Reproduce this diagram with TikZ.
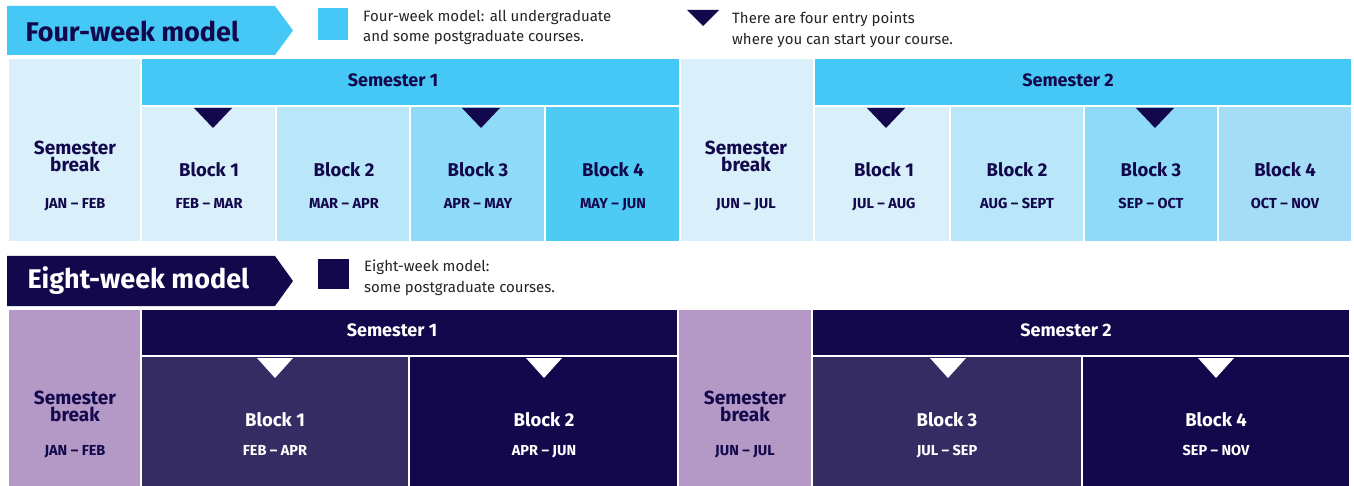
\documentclass[tikz,border=0pt]{standalone}
\usepackage{fontspec}
\setmainfont{Fira Sans}
\definecolor{skyhead}{RGB}{69,200,245}
\definecolor{skypale}{RGB}{217,240,251}
\definecolor{skymid}{RGB}{185,230,249}
\definecolor{skydeep}{RGB}{143,218,247}
\definecolor{skyfull}{RGB}{78,203,245}
\definecolor{skysoft}{RGB}{166,221,246}
\definecolor{navy}{RGB}{18,8,75}
\definecolor{plum}{RGB}{53,44,99}
\definecolor{lilac}{RGB}{180,153,198}
\definecolor{legendgray}{RGB}{35,35,40}
\tikzset{
  cell/.style={draw=white, line width=1.2pt},
  titlelabel/.style={anchor=west, font=\fontsize{27}{30}\selectfont\bfseries},
  legendlabel/.style={anchor=base west, legendgray, inner sep=0pt, font=\fontsize{15}{18}\selectfont},
  semlabel/.style={font=\fontsize{18}{20}\selectfont\bfseries},
  breaklabel/.style={align=center, font=\fontsize{19}{17}\selectfont\bfseries},
  blocklabel/.style={text height=13pt, text depth=0pt, font=\fontsize{18.5}{20}\selectfont\bfseries},
  datelabel/.style={text height=10pt, text depth=0pt, font=\fontsize{14.5}{16}\selectfont\bfseries}
}
\begin{document}
\begin{tikzpicture}[x=1pt, y=-1pt]
\useasboundingbox (0,0) rectangle (1354,486);
%Four-week model
\fill[skyhead] (7,6) -- (275,6) -- (293,30.5) -- (275,55) -- (7,55) -- cycle;
\node[titlelabel, navy] (fourtitle) at (22,31) {Four-week model};
\fill[skyhead] (318,8) rectangle (348,40);
\node[legendlabel] (fourkey1) at (363,22) {Four-week model: all undergraduate};
\node[legendlabel] (fourkey2) at (363,42) {and some postgraduate courses.};
\fill[navy] (687,10) -- (719,10) -- (703,26) -- cycle;
\node[legendlabel] (entrykey1) at (732,24) {There are four entry points};
\node[legendlabel] (entrykey2) at (732,45) {where you can start your course.};
%Four-week grid
\filldraw[cell, fill=skypale] (8,58) rectangle (141,242);
\filldraw[cell, fill=skyhead] (141,58) rectangle (680,106);
\filldraw[cell, fill=skypale] (141,106) rectangle (276,242);
\filldraw[cell, fill=skymid] (276,106) rectangle (410,242);
\filldraw[cell, fill=skydeep] (410,106) rectangle (545,242);
\filldraw[cell, fill=skyfull] (545,106) rectangle (680,242);
\filldraw[cell, fill=skypale] (680,58) rectangle (814,242);
\filldraw[cell, fill=skyhead] (814,58) rectangle (1352,106);
\filldraw[cell, fill=skypale] (814,106) rectangle (950,242);
\filldraw[cell, fill=skymid] (950,106) rectangle (1084,242);
\filldraw[cell, fill=skydeep] (1084,106) rectangle (1218,242);
\filldraw[cell, fill=skysoft] (1218,106) rectangle (1352,242);
%Entry points
\fill[navy] (194,108) -- (232,108) -- (213,128) -- cycle;
\fill[navy] (462,108) -- (500,108) -- (481,128) -- cycle;
\fill[navy] (867,108) -- (905,108) -- (886,128) -- cycle;
\fill[navy] (1136,108) -- (1174,108) -- (1155,128) -- cycle;
%Four-week labels
\begin{scope}[navy]
\node[semlabel] (foursem1) at (393,80) {Semester 1};
\node[semlabel] (foursem2) at (1068,80) {Semester 2};
\node[breaklabel] (fourbreak1) at (75,156) {Semester\\break};
\node[datelabel] (fourbreak1date) at (75,204) {JAN – FEB};
\node[breaklabel] (fourbreak2) at (746,156) {Semester\\break};
\node[datelabel] (fourbreak2date) at (746,204) {JUN – JUL};
\node[blocklabel] (fourblock1) at (209,170) {Block 1};
\node[datelabel] (fourblock1date) at (209,204) {FEB – MAR};
\node[blocklabel] (fourblock2) at (344,170) {Block 2};
\node[datelabel] (fourblock2date) at (344,204) {MAR – APR};
\node[blocklabel] (fourblock3) at (478,170) {Block 3};
\node[datelabel] (fourblock3date) at (478,204) {APR – MAY};
\node[blocklabel] (fourblock4) at (613,170) {Block 4};
\node[datelabel] (fourblock4date) at (613,204) {MAY – JUN};
\node[blocklabel] (fourblock5) at (884,170) {Block 1};
\node[datelabel] (fourblock5date) at (884,204) {JUL – AUG};
\node[blocklabel] (fourblock6) at (1017,170) {Block 2};
\node[datelabel] (fourblock6date) at (1017,204) {AUG – SEPT};
\node[blocklabel] (fourblock7) at (1151,170) {Block 3};
\node[datelabel] (fourblock7date) at (1151,204) {SEP – OCT};
\node[blocklabel] (fourblock8) at (1285,170) {Block 4};
\node[datelabel] (fourblock8date) at (1285,204) {OCT – NOV};
\end{scope}
%Eight-week model
\fill[navy] (7,256) -- (275,256) -- (293,281) -- (275,306) -- (7,306) -- cycle;
\node[titlelabel, white] (eighttitle) at (24,281) {Eight-week model};
\fill[navy] (318,259) rectangle (349,289);
\node[legendlabel] (eightkey1) at (364,272) {Eight-week model:};
\node[legendlabel] (eightkey2) at (364,292) {some postgraduate courses.};
%Eight-week grid
\filldraw[cell, fill=lilac] (8,309) rectangle (141,487);
\filldraw[cell, fill=navy] (141,309) rectangle (678,356);
\filldraw[cell, fill=plum] (141,356) rectangle (409,487);
\filldraw[cell, fill=navy] (409,356) rectangle (678,487);
\filldraw[cell, fill=lilac] (678,309) rectangle (812,487);
\filldraw[cell, fill=navy] (812,309) rectangle (1350,356);
\filldraw[cell, fill=plum] (812,356) rectangle (1082,487);
\filldraw[cell, fill=navy] (1082,356) rectangle (1350,487);
%Entry points
\fill[white] (257,358) -- (293,358) -- (275,378) -- cycle;
\fill[white] (526,358) -- (562,358) -- (544,378) -- cycle;
\fill[white] (930,358) -- (966,358) -- (948,378) -- cycle;
\fill[white] (1198,358) -- (1234,358) -- (1216,378) -- cycle;
%Eight-week labels
\node[semlabel, white] (eightsem1) at (392,330) {Semester 1};
\node[semlabel, white] (eightsem2) at (1066,330) {Semester 2};
\node[breaklabel, navy] (eightbreak1) at (75,406) {Semester\\break};
\node[datelabel, navy] (eightbreak1date) at (75,450) {JAN – FEB};
\node[breaklabel, navy] (eightbreak2) at (745,406) {Semester\\break};
\node[datelabel, navy] (eightbreak2date) at (745,450) {JUN – JUL};
\node[blocklabel, white] (eightblock1) at (275,420) {Block 1};
\node[datelabel, white] (eightblock1date) at (275,450) {FEB – APR};
\node[blocklabel, white] (eightblock2) at (544,420) {Block 2};
\node[datelabel, white] (eightblock2date) at (544,450) {APR – JUN};
\node[blocklabel, white] (eightblock3) at (947,420) {Block 3};
\node[datelabel, white] (eightblock3date) at (947,450) {JUL – SEP};
\node[blocklabel, white] (eightblock4) at (1216,420) {Block 4};
\node[datelabel, white] (eightblock4date) at (1216,450) {SEP – NOV};
\end{tikzpicture}
\end{document}
